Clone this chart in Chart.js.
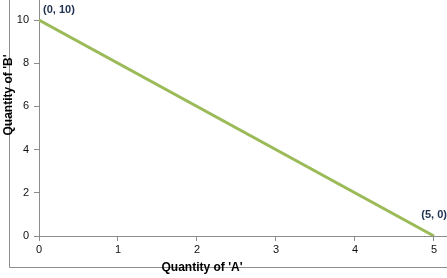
<!DOCTYPE html>
<html>
<head>
<meta charset="utf-8">
<script src="https://cdn.jsdelivr.net/npm/chart.js@4"></script>
<style>
  html, body { margin: 0; padding: 0; background: #fff; }
  #wrap { width: 447px; height: 278px; position: relative; }
</style>
</head>
<body>
<div id="wrap"><canvas id="chart"></canvas></div>
<script>
const qtyA = [0, 5];
const qtyB = [10, 0];
const pointLabels = ['(0, 10)', '(5, 0)'];
const xTicks = [0, 1, 2, 3, 4, 5];
const yTicks = [0, 2, 4, 6, 8, 10];

const axisGray = '#8c8c8c';
const labelFont = '"Liberation Sans", Arial, sans-serif';

// frame, axis titles and the point labels
const decor = {
  id: 'decor',
  afterDraw(chart) {
    const ctx = chart.ctx;
    ctx.save();
    ctx.strokeStyle = axisGray;
    ctx.lineWidth = 1;
    ctx.beginPath();
    ctx.moveTo(9.5, 0);
    ctx.lineTo(9.5, 267.5);
    ctx.lineTo(447, 267.5);
    ctx.stroke();

    ctx.fillStyle = '#000';
    ctx.font = 'bold 12px ' + labelFont;
    ctx.textAlign = 'center';
    ctx.textBaseline = 'middle';
    ctx.fillText("Quantity of 'A'", 202, 268);
    ctx.save();
    ctx.translate(9, 95);
    ctx.rotate(-Math.PI / 2);
    ctx.fillText("Quantity of 'B'", 0, 0);
    ctx.restore();

    const meta = chart.getDatasetMeta(0);
    ctx.fillStyle = '#1f3050';
    ctx.font = 'bold 11px ' + labelFont;
    const p0 = meta.data[0], p1 = meta.data[1];
    ctx.textAlign = 'left';
    ctx.fillText(pointLabels[0], p0.x + 4, p0.y - 10);
    ctx.textAlign = 'right';
    ctx.fillText(pointLabels[1], p1.x + 13, p1.y - 21);
    ctx.restore();
  }
};

new Chart(document.getElementById('chart'), {
  type: 'line',
  data: {
    datasets: [{
      data: qtyA.map((a, i) => ({ x: a, y: qtyB[i] })),
      borderColor: '#9bbb59',
      borderWidth: 3,
      pointRadius: 0,
      tension: 0
    }]
  },
  options: {
    responsive: true,
    maintainAspectRatio: false,
    animation: false,
    layout: { padding: 0 },
    plugins: { legend: { display: false }, tooltip: { enabled: false } },
    scales: {
      x: {
        type: 'linear',
        min: 0,
        max: 5.165,
        afterBuildTicks: s => { s.ticks = xTicks.map(v => ({ value: v })); },
        afterFit: s => { s.height = 42; s.paddingLeft = 0; s.paddingRight = 0; },
        border: { color: axisGray, width: 1 },
        grid: { drawOnChartArea: false, drawTicks: true, tickLength: 5, color: axisGray },
        ticks: { color: '#111', font: { family: labelFont, size: 11 }, padding: 2, maxRotation: 0 }
      },
      y: {
        min: 0,
        max: 10.93,
        afterBuildTicks: s => { s.ticks = yTicks.map(v => ({ value: v })); },
        afterFit: s => { s.width = 39; s.paddingTop = 0; s.paddingBottom = 0; },
        border: { color: axisGray, width: 1 },
        grid: { drawOnChartArea: false, drawTicks: true, tickLength: 5, color: axisGray },
        ticks: { color: '#111', font: { family: labelFont, size: 11 }, padding: 5 }
      }
    }
  },
  plugins: [decor]
});
</script>
</body>
</html>
